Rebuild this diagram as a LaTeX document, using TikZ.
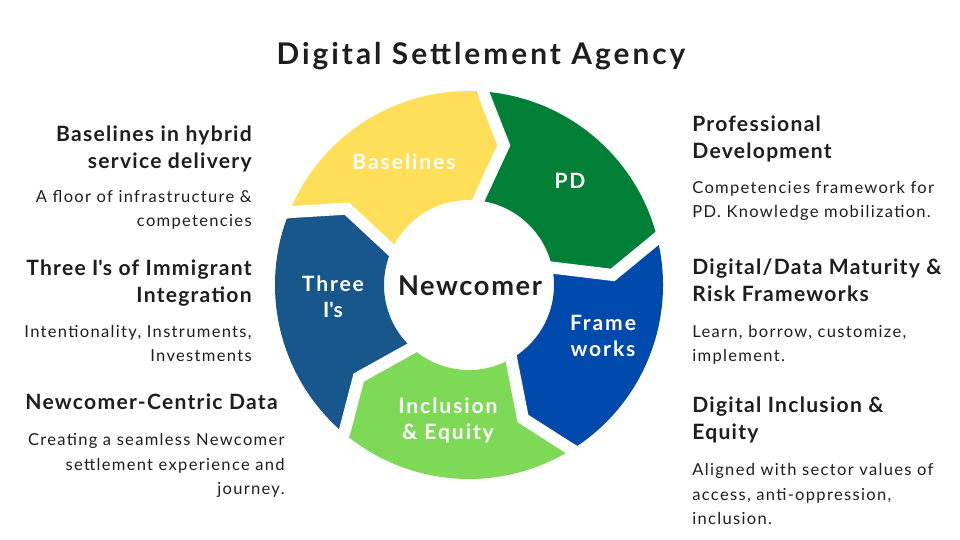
\documentclass[tikz,border=0pt]{standalone}
\usepackage{fontspec}
\setmainfont{Lato}[LetterSpace=8]
\newfontfamily\headfont{Lato}[LetterSpace=6]
\newfontfamily\ringfont{Lato}[LetterSpace=9]
\newfontfamily\titlefont{Lato}[LetterSpace=10]
\usepackage{tikz}
\definecolor{ink}{HTML}{1E1E1E}
\definecolor{yellowseg}{HTML}{FFDE59}
\definecolor{greenseg}{HTML}{008037}
\definecolor{blueseg}{HTML}{004AAD}
\definecolor{limeseg}{HTML}{7ED957}
\definecolor{navyseg}{HTML}{17578C}
\tikzset{
  title/.style={font=\titlefont\bfseries\fontsize{17}{20}\selectfont,text=ink,anchor=base},
  heading/.style={font=\headfont\bfseries\fontsize{12}{15.6}\selectfont,text=ink},
  body/.style={font=\fontsize{9.4}{14.2}\selectfont,text=ink},
  ringlbl/.style={font=\ringfont\bfseries\fontsize{12}{15.3}\selectfont,text=white,align=center,anchor=base},
  hub/.style={font=\headfont\bfseries\fontsize{15.5}{18}\selectfont,text=ink,anchor=base},
  gap/.style={draw=white,line width=0.24cm}}

\begin{document}
\begin{tikzpicture}[x=0.02cm,y=0.02cm,inner sep=0pt]
  \fill[white] (0,0) rectangle (960,540);
  \useasboundingbox (0,0) rectangle (960,540);
  \begin{scope}[shift={(469,255)}]
    \fill[yellowseg] (160:194) arc[start angle=160,end angle=88,radius=194] -- (76:144) -- (88:85) arc[start angle=88,end angle=160,radius=85] -- (148:144) -- cycle;
    \fill[greenseg] (88:194) arc[start angle=88,end angle=16,radius=194] -- (4:144) -- (16:85) arc[start angle=16,end angle=88,radius=85] -- (76:144) -- cycle;
    \fill[blueseg] (16:194) arc[start angle=16,end angle=-56,radius=194] -- (-68:144) -- (-56:85) arc[start angle=-56,end angle=16,radius=85] -- (4:144) -- cycle;
    \fill[limeseg] (-56:194) arc[start angle=-56,end angle=-128,radius=194] -- (-140:144) -- (-128:85) arc[start angle=-128,end angle=-56,radius=85] -- (-68:144) -- cycle;
    \fill[navyseg] (-128:194) arc[start angle=-128,end angle=-200,radius=194] -- (-212:144) -- (-200:85) arc[start angle=-200,end angle=-128,radius=85] -- (-140:144) -- cycle;
    \draw[gap] (160:210) -- (148:144) -- (160:70);
    \draw[gap] (88:210) -- (76:144) -- (88:70);
    \draw[gap] (16:210) -- (4:144) -- (16:70);
    \draw[gap] (-56:210) -- (-68:144) -- (-56:70);
    \draw[gap] (-128:210) -- (-140:144) -- (-128:70);
  \end{scope}
  \node[title] (ttl) at (481,475) {Digital Settlement Agency};
  \node[hub] (hub) at (470,244) {Newcomer};
  \node[ringlbl] (base) at (404,370) {Baselines};
  \node[ringlbl] (pd) at (570,351) {PD};
  \node[ringlbl] (frame) at (603,183) {Frame\\works};
  \node[ringlbl] (incl) at (448,100) {Inclusion\\\& Equity};
  \node[ringlbl] (three) at (333,222) {Three\\I\textquotesingle s};
  \node[heading,align=right,anchor=base east] (hbase) at (252,371) {Baselines in hybrid\\service delivery};
  \node[body,align=right,anchor=base east] (tbase) at (252,313) {A floor of infrastructure \&\\competencies};
  \node[heading,align=right,anchor=base east] (hthree) at (252,237) {Three I\textquotesingle s of Immigrant\\Integration};
  \node[body,align=right,anchor=base east] (tthree) at (252,178) {Intentionality, Instruments,\\Investments};
  \node[heading,anchor=base east] (hdata) at (278,130) {Newcomer-Centric Data};
  \node[body,align=right,anchor=base east] (tdata) at (285,45) {Creating a seamless Newcomer\\settlement experience and\\journey.};
  \node[heading,align=left,anchor=base west] (hpd) at (692,381) {Professional\\Development};
  \node[body,align=left,anchor=base west] (tpd) at (692,322) {Competencies framework for\\PD. Knowledge mobilization.};
  \node[heading,align=left,anchor=base west] (hframe) at (692,238) {Digital/Data Maturity \&\\Risk Frameworks};
  \node[body,align=left,anchor=base west] (tframe) at (692,178) {Learn, borrow, customize,\\implement.};
  \node[heading,align=left,anchor=base west] (hincl) at (692,100) {Digital Inclusion \&\\Equity};
  \node[body,align=left,anchor=base west] (tincl) at (692,15) {Aligned with sector values of\\access, anti-oppression,\\inclusion.};
\end{tikzpicture}
\end{document}
